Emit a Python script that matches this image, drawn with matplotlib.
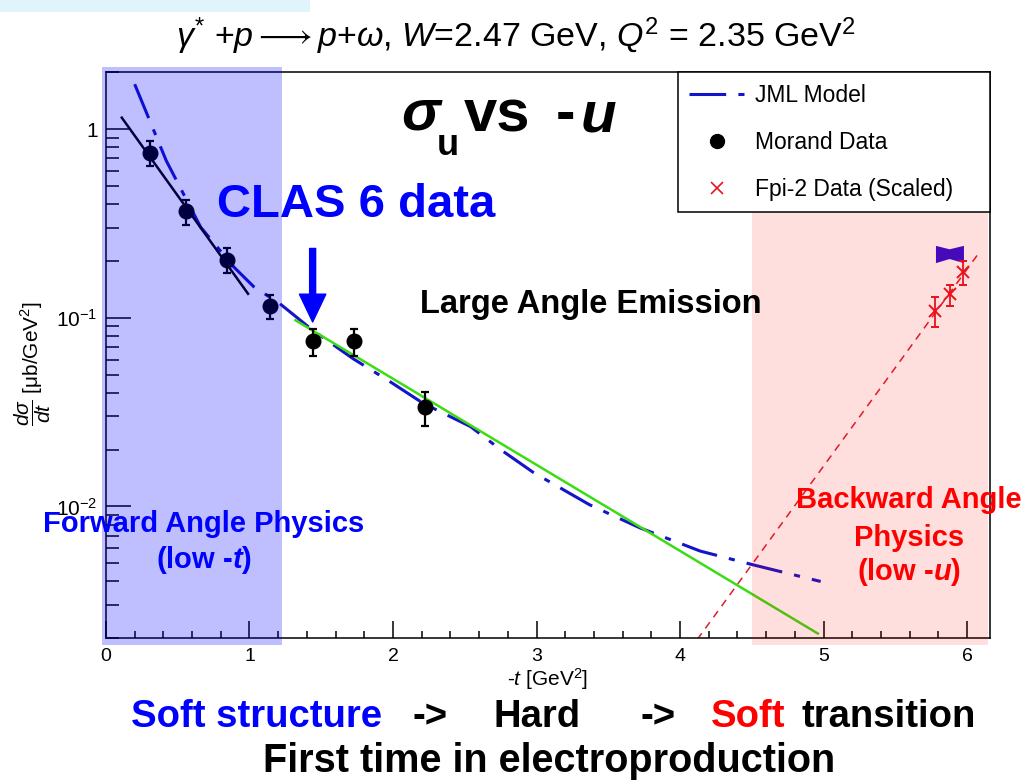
import matplotlib
matplotlib.use("Agg")
from matplotlib import pyplot as plt
from matplotlib.patches import Rectangle
from matplotlib.lines import Line2D
import matplotlib.transforms as mtransforms
from matplotlib.ticker import (FixedLocator, FixedFormatter, MultipleLocator,
                               LogLocator, NullFormatter)

plt.rcParams['font.family'] = ['Liberation Sans', 'DejaVu Sans']
plt.rcParams['mathtext.fontset'] = 'custom'
plt.rcParams['mathtext.rm'] = 'Liberation Sans'
plt.rcParams['mathtext.it'] = 'Liberation Sans:italic'
plt.rcParams['mathtext.bf'] = 'Liberation Sans:bold'
plt.rcParams['mathtext.bfit'] = 'Liberation Sans:italic:bold'

# Morand data (CLAS 6)
morand_t = [0.31, 0.555, 0.84, 1.14, 1.44, 1.73, 2.22]
morand_y = [0.75, 0.367, 0.203, 0.115, 0.075, 0.075, 0.0336]
morand_err = [0.11, 0.055, 0.03, 0.017, 0.012, 0.012, 0.007]

# Fpi-2 data (scaled)
fpi2_t = [5.78, 5.88, 5.97]
fpi2_y = [0.109, 0.133, 0.175]
fpi2_err = [0.02, 0.017, 0.025]

# JML model
jml_t = [0.20, 0.42, 0.66, 0.89, 1.03, 1.21, 1.44, 1.72, 1.98, 2.21, 2.54,
         2.75, 2.98, 3.37, 3.72, 4.14, 4.51, 4.98]
jml_y = [1.73, 0.68, 0.302, 0.186, 0.146, 0.119, 0.0859, 0.0608, 0.0458,
         0.0352, 0.0265, 0.0200, 0.0151, 0.0102, 0.0077, 0.0058, 0.0049, 0.0040]

# straight fits
fwd_fit_t = [0.11, 0.99]
fwd_fit_y = [1.15, 0.134]
hard_fit_t = [1.32, 4.96]
hard_fit_y = [0.097, 0.00212]
bwd_fit_t = [4.12, 6.07]
bwd_fit_y = [0.00197, 0.214]

# prediction band at backward angles
band_t = [5.78, 5.875, 5.975]
band_lo = [0.196, 0.206, 0.196]
band_hi = [0.242, 0.232, 0.242]

forward_region = (-0.03, 1.225)
backward_region = (4.5, 6.145)

y_ticks = [0.01, 0.1, 1]
y_tick_labels = ['$10^{-2}$', '$10^{-1}$', '1']


def fx(px):
    return px / 1024


def fy(py):
    return 1 - py / 780


fig = plt.figure(figsize=(10.24, 7.8), dpi=100)
fig.add_artist(Rectangle((0, fy(12)), fx(310), 12 / 780, transform=fig.transFigure,
                         facecolor='#e1f3fb', edgecolor='none'))

ax = fig.add_axes([0.1035, 0.1817, 0.8633, 0.7256])
ax.set_yscale('log')
ax.set_xlim(0, 6.16)
ax.set_ylim(0.002, 2)

jml_dash = (12, 4, 2, 4)
ax.plot(jml_t, jml_y, color='#1414c8', lw=2.2, dashes=jml_dash, zorder=2)
ax.plot(fwd_fit_t, fwd_fit_y, color='black', lw=1.8, zorder=2)
ax.plot(hard_fit_t, hard_fit_y, color='#3cdc14', lw=1.8, zorder=2)
ax.plot(bwd_fit_t, bwd_fit_y, color='#dc1e2d', lw=1.1, dashes=(5, 4), zorder=2)
ax.fill_between(band_t, band_lo, band_hi, color='#2a0cd8', lw=0, zorder=3)

ax.errorbar(morand_t, morand_y, yerr=morand_err, fmt='o', color='black', ms=10.5,
            elinewidth=1.6, capsize=3, capthick=1.6, zorder=3)
ax.errorbar(fpi2_t, fpi2_y, yerr=fpi2_err, fmt='x', color='#e8141e', ms=9, mew=1.4,
            elinewidth=1.3, capsize=3, capthick=1.3, zorder=3)

trans = mtransforms.blended_transform_factory(ax.transData, ax.transAxes)
ax.add_patch(Rectangle((forward_region[0], -0.012), forward_region[1] - forward_region[0],
                       1.022, transform=trans, facecolor=(0, 0, 1, 0.25),
                       edgecolor='none', clip_on=False, zorder=4))
ax.add_patch(Rectangle((backward_region[0], -0.012), backward_region[1] - backward_region[0],
                       1.012, transform=trans, facecolor=(1, 0, 0, 0.13),
                       edgecolor='none', clip_on=False, zorder=4))

ax.annotate('', xy=(morand_t[4], 0.095), xytext=(morand_t[4], 0.233),
            arrowprops=dict(facecolor='blue', edgecolor='blue', width=4.3,
                            headwidth=19, headlength=20), zorder=6)

handles = [Line2D([], [], color='#1414c8', lw=2.2, dashes=jml_dash),
           Line2D([], [], ls='none', marker='o', color='black', ms=10),
           Line2D([], [], ls='none', marker='x', color='#e8141e', ms=9, mew=1.2)]
leg = ax.legend(handles, ['JML Model', 'Morand Data', 'Fpi-2 Data (Scaled)'],
                loc='upper left', bbox_to_anchor=(0.647, 0.7514, 0.353, 0.2486),
                mode='expand', borderaxespad=0, fontsize=16.5, frameon=True,
                fancybox=False, edgecolor='black', framealpha=1,
                handlelength=2.4, handletextpad=0.45, labelspacing=1.05,
                borderpad=0.5)
leg.get_frame().set_linewidth(1.1)
leg.set_zorder(5)

ax.xaxis.set_major_locator(MultipleLocator(1))
ax.xaxis.set_minor_locator(MultipleLocator(0.2))
ax.yaxis.set_major_locator(FixedLocator(y_ticks))
ax.yaxis.set_major_formatter(FixedFormatter(y_tick_labels))
ax.yaxis.set_minor_locator(LogLocator(subs=range(2, 10)))
ax.yaxis.set_minor_formatter(NullFormatter())
ax.tick_params(which='both', direction='in', top=False, right=False, width=1.1)
ax.tick_params(axis='x', which='major', length=12, labelsize=14, pad=7)
ax.tick_params(axis='x', which='minor', length=5)
ax.tick_params(axis='y', which='major', length=18, labelsize=15, pad=6)
ax.tick_params(axis='y', which='minor', length=9)
for sp in ax.spines.values():
    sp.set_linewidth(1.1)

ax.set_xlabel(r'-$t$ [GeV$^{2}$]', fontsize=15, labelpad=1)
fig.text(fx(33), fy(364), r'$\dfrac{d\sigma}{dt}$ [μb/GeV$^{2}$]', rotation=90,
         ha='center', va='center', fontsize=15)

fig.text(fx(516), fy(47),
         r'$\gamma^{*}$ +$p \longrightarrow p$+$\omega$, $W$=2.47 GeV, $Q^{2}$ = 2.35 GeV$^{2}$',
         ha='center', va='baseline', fontsize=24.5)

# big labels
fig.text(fx(401), fy(130), 'σ', fontsize=42, fontweight='bold', fontstyle='italic',
         va='baseline')
fig.text(fx(437), fy(155), 'u', fontsize=26, fontweight='bold', va='baseline')
fig.text(fx(464), fy(131), 'vs', fontsize=43, fontweight='bold', va='baseline')
fig.text(fx(556), fy(131), '-', fontsize=42, fontweight='bold', va='baseline')
fig.text(fx(581), fy(131), 'u', fontsize=42, fontweight='bold', fontstyle='italic',
         va='baseline')

fig.text(fx(356), fy(217), 'CLAS 6 data', fontsize=34, fontweight='bold', color='blue',
         ha='center', va='baseline')
fig.text(fx(591), fy(313), 'Large Angle Emission', fontsize=23.5, fontweight='bold',
         ha='center', va='baseline')
fig.text(fx(204), fy(532), 'Forward Angle Physics', fontsize=21, fontweight='bold',
         color='blue', ha='center', va='baseline')
fig.text(fx(204), fy(568), r'(low -$\mathbfit{t}$)', fontsize=21, fontweight='bold',
         color='blue', ha='center', va='baseline')
fig.text(fx(909), fy(508), 'Backward Angle', fontsize=21, fontweight='bold',
         color='red', ha='center', va='baseline')
fig.text(fx(909), fy(546), 'Physics', fontsize=21, fontweight='bold',
         color='red', ha='center', va='baseline')
fig.text(fx(909), fy(580), r'(low -$\mathbfit{u}$)', fontsize=21, fontweight='bold',
         color='red', ha='center', va='baseline')

# bottom lines
row = [(131, 'Soft structure', 'blue'), (412, '->', 'black'), (493, 'Hard', 'black'),
       (640, '->', 'black'), (711, 'Soft', 'red'), (801, 'transition', 'black')]
for x0, s, c in row:
    fig.text(fx(x0), fy(727), s, fontsize=27.5, fontweight='bold', color=c, va='baseline')
fig.text(fx(549), fy(772), 'First time in electroproduction', fontsize=28.5,
         fontweight='bold', ha='center', va='baseline')

fig.savefig('out.png', dpi=100)
